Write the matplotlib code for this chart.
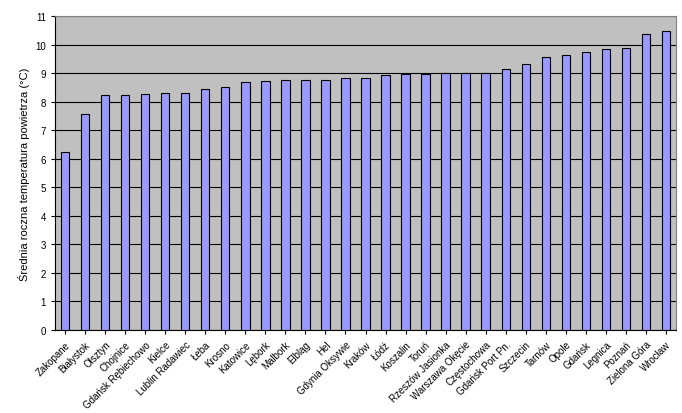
import matplotlib
matplotlib.use("Agg")
import matplotlib.pyplot as plt
import numpy as np

stations = ["Zakopane", "Białystok", "Olsztyn", "Chojnice", "Gdańsk Rębiechowo", "Kielce",
            "Lublin Radawiec", "Łeba", "Krosno", "Katowice", "Lębork", "Malbork", "Elbląg", "Hel",
            "Gdynia Oksywie", "Kraków", "Łódź", "Koszalin", "Toruń", "Rzeszów Jasionka",
            "Warszawa Okęcie", "Częstochowa", "Gdańsk Port Pn.", "Szczecin", "Tarnów", "Opole",
            "Gdańsk", "Legnica", "Poznań", "Zielona Góra", "Wrocław"]
temps = [6.25, 7.58, 8.24, 8.24, 8.28, 8.31, 8.31, 8.45, 8.52, 8.69, 8.73, 8.76, 8.76, 8.76,
         8.83, 8.83, 8.93, 8.97, 8.97, 9.0, 9.0, 9.0, 9.15, 9.32, 9.57, 9.63, 9.74, 9.85, 9.88,
         10.37, 10.48]

plt.rcParams['font.family'] = ['Liberation Sans', 'DejaVu Sans']
fig = plt.figure(figsize=(6.82, 4.14), dpi=100)
ax = fig.add_axes([55/682, 1-331/414, 621/682, 314/414])
ax.set_facecolor('#C0C0C0')
x = np.arange(len(stations))
ax.bar(x, temps, width=0.42, color='#9999FF', edgecolor='black', linewidth=0.8, zorder=3)
ax.set_xlim(-0.5, len(stations)-0.5)
ax.set_ylim(0, 11)
ax.set_yticks(range(0, 12))
ax.yaxis.grid(True, color='black', linewidth=0.8, zorder=0)
ax.set_xticks(x)
ax.set_xticklabels(stations, rotation=45, ha='right', rotation_mode='anchor', fontsize=7)
ax.tick_params(axis='y', labelsize=7, length=3)
ax.tick_params(axis='x', length=3)
ax.set_ylabel('Średnia roczna temperatura powietrza (°C)', fontsize=8)
for s in ax.spines.values():
    s.set_color('#808080')
ax.spines['left'].set_color('black')
ax.spines['bottom'].set_color('black')
fig.savefig('out.png', dpi=100)
